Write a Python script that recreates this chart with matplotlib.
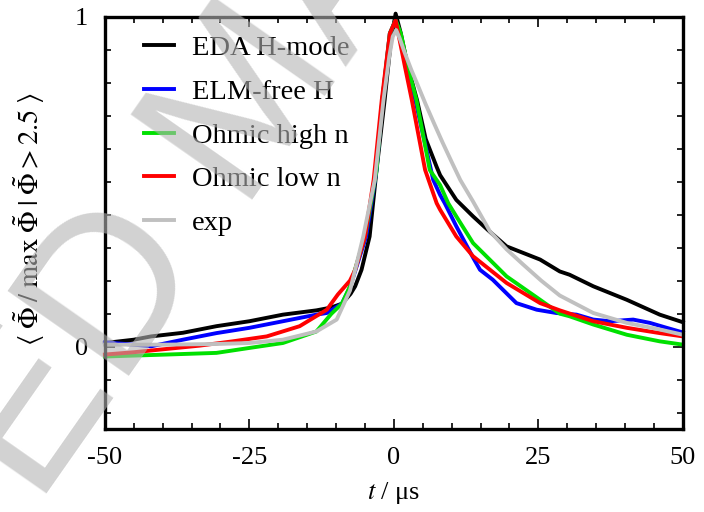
import matplotlib
matplotlib.use("Agg")
import matplotlib.pyplot as plt
from matplotlib.ticker import MultipleLocator, FixedLocator

plt.rcParams["font.family"] = ["Liberation Serif", "DejaVu Serif"]
plt.rcParams["mathtext.fontset"] = "stix"

# conditionally averaged waveforms, time in microseconds
t_eda = [-50, -45, -42, -36.5, -30.7, -25, -19.2, -13.4, -11, -9, -7.5, -6.7, -5.6,
         -4.2, -3.0, -1.6, -0.5, 0.3, 1.2, 2.4, 4.0, 5.5, 7.4, 8.0, 10.8, 13.7,
         16.5, 19.5, 25.3, 28.7, 30.4, 34.5, 40.3, 46, 50]
v_eda = [0.011, 0.021, 0.031, 0.042, 0.062, 0.077, 0.097, 0.110, 0.118, 0.13, 0.16,
         0.183, 0.233, 0.334, 0.536, 0.748, 0.93, 1.01, 0.95, 0.85, 0.748, 0.63,
         0.545, 0.52, 0.445, 0.395, 0.35, 0.304, 0.264, 0.228, 0.218, 0.183,
         0.142, 0.097, 0.074]

t_elm = [-50, -45, -42, -36.5, -30.7, -25, -19.2, -13.4, -11.6, -9, -7.6, -4.8,
         -3.0, -2.0, -0.7, 0.3, 1.0, 2.2, 3.7, 6.8, 8.0, 8.8, 10.8, 13.7, 14.9,
         17.1, 21.2, 24.7, 28.1, 31.6, 34.5, 37.4, 41.4, 44.3, 47.2, 50]
v_elm = [0.013, 0.006, 0.001, 0.021, 0.041, 0.057, 0.077, 0.097, 0.102, 0.13, 0.18,
         0.334, 0.536, 0.748, 0.95, 0.99, 0.95, 0.85, 0.748, 0.506, 0.46, 0.435,
         0.365, 0.27, 0.233, 0.203, 0.132, 0.112, 0.102, 0.097, 0.082, 0.077,
         0.082, 0.072, 0.057, 0.043]

t_ohm_hi = [-50, -39.3, -30.7, -25, -19.2, -13.4, -10.8, -9, -7.6, -5.0, -3.0, -2.0,
            -0.7, 0.3, 1.2, 2.4, 3.9, 6.2, 8.0, 9.4, 10.8, 13.7, 19.5, 25.3, 28.7,
            30.4, 34.5, 40.3, 46, 50]
v_ohm_hi = [-0.03, -0.024, -0.019, -0.004, 0.011, 0.046, 0.1, 0.13, 0.183, 0.334,
            0.536, 0.748, 0.95, 0.99, 0.95, 0.85, 0.748, 0.536, 0.49, 0.435, 0.395,
            0.314, 0.213, 0.142, 0.1, 0.092, 0.067, 0.036, 0.016, 0.006]

t_ohm_lo = [-50, -45, -39.3, -33.6, -27.9, -22, -16.3, -11.6, -9.7, -7.6, -6.7, -5.0,
            -3.5, -2.1, -0.7, 0.3, 0.75, 1.9, 3.1, 5.4, 7.4, 8.0, 10.8, 13.7, 19.5,
            25.3, 28.7, 34.5, 40.3, 46, 50]
v_ohm_lo = [-0.024, -0.017, -0.007, 0.003, 0.016, 0.031, 0.062, 0.112, 0.158, 0.2,
            0.233, 0.334, 0.506, 0.748, 0.95, 0.99, 0.951, 0.85, 0.748, 0.536,
            0.435, 0.415, 0.334, 0.274, 0.193, 0.132, 0.11, 0.077, 0.057, 0.041,
            0.031]

t_exp = [-50, -39.3, -30.7, -25, -19.2, -13.4, -9.9, -7.6, -6.7, -5.3, -3.3, -1.8,
         -0.8, -0.2, 0.4, 1.0, 1.8, 3.0, 4.2, 5.5, 7.0, 8.4, 10.0, 11.5, 13.7, 16.6,
         19.5, 22.3, 25.5, 28.7, 34.5, 40.3, 46, 50]
v_exp = [0.006, 0.006, 0.008, 0.011, 0.021, 0.046, 0.082, 0.17, 0.233, 0.334, 0.506,
         0.748, 0.88, 0.94, 0.96, 0.935, 0.895, 0.84, 0.79, 0.735, 0.675, 0.62,
         0.56, 0.505, 0.44, 0.35, 0.295, 0.25, 0.2, 0.155, 0.102, 0.072, 0.052,
         0.036]

series = [
    ("EDA H-mode", t_eda, v_eda, "#000000"),
    ("ELM-free H", t_elm, v_elm, "#0000ff"),
    ("Ohmic high n", t_ohm_hi, v_ohm_hi, "#00e000"),
    ("Ohmic low n", t_ohm_lo, v_ohm_lo, "#ff0000"),
    ("exp", t_exp, v_exp, "#c0c0c0"),
]

fig = plt.figure(figsize=(7.04, 5.12), dpi=100)
ax = fig.add_axes([0.149, 0.162, 0.821, 0.805])

for label, t, v, col in series:
    ax.plot(t, v, color=col, lw=2.8, label=label, clip_on=False,
            solid_joinstyle="round")

ax.set_xlim(-50, 50)
ax.set_ylim(-0.25, 1)
ax.xaxis.set_major_locator(FixedLocator([-50, -25, 0, 25, 50]))
ax.xaxis.set_minor_locator(MultipleLocator(5))
ax.yaxis.set_major_locator(FixedLocator([0, 1]))
ax.yaxis.set_minor_locator(MultipleLocator(0.1))
ax.set_xticklabels(["-50", "-25", "0", "25", "50"])
ax.set_yticklabels(["0", "1"])

ax.tick_params(which="both", direction="in", top=True, right=True,
               labelsize=19, width=1.2)
ax.tick_params(which="major", length=7)
ax.tick_params(which="minor", length=4)
ax.tick_params(axis="x", pad=13)
ax.tick_params(axis="y", pad=12)
for sp in ax.spines.values():
    sp.set_linewidth(2.4)

ax.set_xlabel(r"$t$ / μs", fontsize=19, labelpad=8)
ax.set_ylabel(r"$\langle\;\tilde{\Phi}\;/\;\max\;\tilde{\Phi}\;|\;\tilde{\Phi} > 2.5\;\rangle$",
              fontsize=20.5)
ax.yaxis.set_label_coords(-0.1, 0.51)

ax.legend(loc="upper left", bbox_to_anchor=(0.035, 1.0), frameon=False,
          fontsize=20.5, handlelength=1.05, handletextpad=0.65,
          labelspacing=0.62, borderaxespad=0.25)

# diagonal watermark across the left half
fig.text(0.266, 0.615, "ED MA", fontsize=155, rotation=55, rotation_mode="anchor",
         color="#b4b4b4", alpha=0.6, ha="center", va="center",
         family="Liberation Sans", zorder=10)

fig.savefig("out.png", dpi=100)
